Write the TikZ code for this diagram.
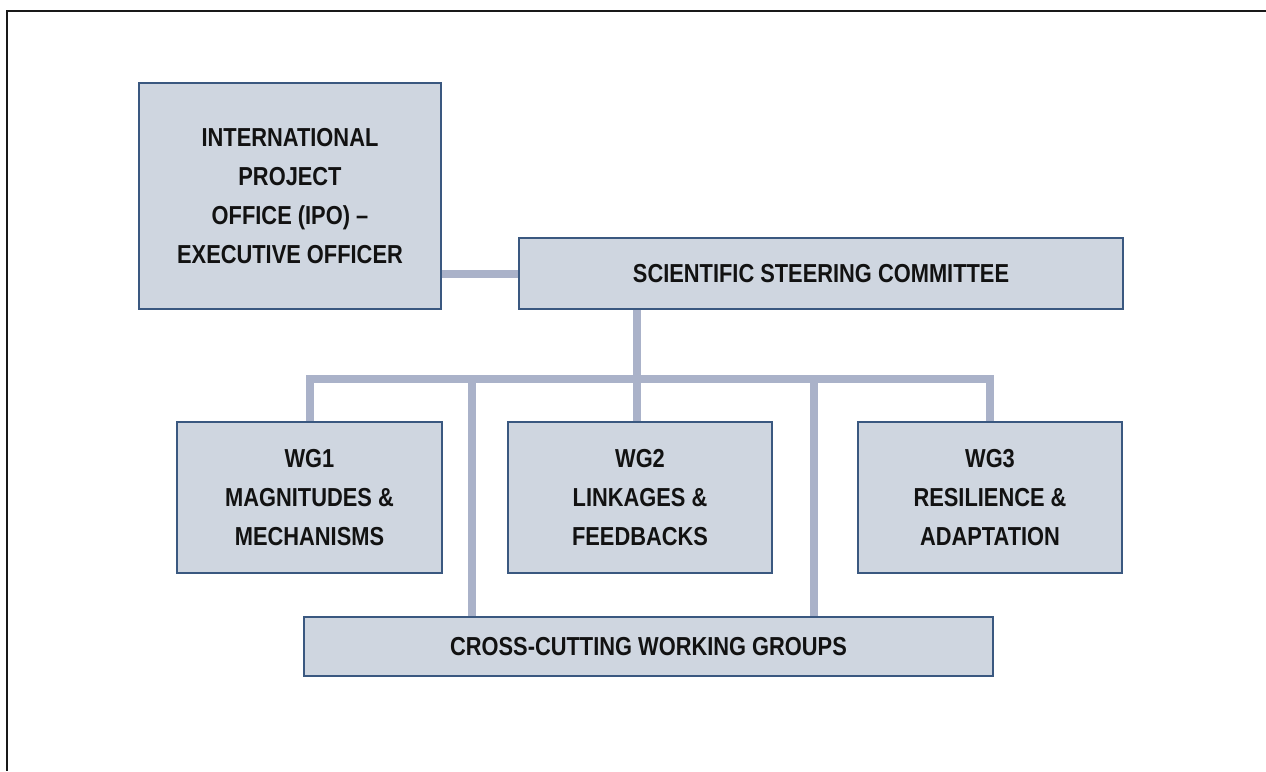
\documentclass[tikz,border=0pt]{standalone}
\usepackage{fontspec}
\setmainfont{Liberation Sans}[FakeStretch=0.84]
\usetikzlibrary{backgrounds}
\definecolor{boxfill}{RGB}{207,214,224}
\definecolor{boxline}{RGB}{58,88,128}
\definecolor{linkcol}{RGB}{170,178,201}
\definecolor{txt}{RGB}{18,18,18}
\begin{document}
\begin{tikzpicture}[x=1pt,y=-1pt,
  orgbox/.style={draw=boxline, line width=1.5pt, fill=boxfill, inner sep=0pt,
    align=center, text=txt, font=\fontsize{26}{39.3}\selectfont\bfseries},
  link/.style={draw=linkcol, line width=8pt, line join=miter},
  frameline/.style={draw=black!90, line width=1.6pt}]
\useasboundingbox (0,0) rectangle (1266,771);
\coordinate (fr1) at (1266,11);
\coordinate (fr2) at (7,11);
\coordinate (fr3) at (7,771);
\draw[frameline] (fr1) -- (fr2) -- (fr3);

\node[orgbox, minimum width=302pt, minimum height=226pt] (ipo) at (290,196)
  {INTERNATIONAL\\PROJECT\\OFFICE (IPO) –\\EXECUTIVE OFFICER};
\node[orgbox, minimum width=604pt, minimum height=71pt] (ssc) at (821,273.5)
  {SCIENTIFIC STEERING COMMITTEE};
\node[orgbox, minimum width=265pt, minimum height=151pt] (wg1) at (309.5,497.5)
  {WG1\\MAGNITUDES \&\\MECHANISMS};
\node[orgbox, minimum width=264pt, minimum height=151pt] (wg2) at (640,497.5)
  {WG2\\LINKAGES \&\\FEEDBACKS};
\node[orgbox, minimum width=264pt, minimum height=151pt] (wg3) at (990,497.5)
  {WG3\\RESILIENCE \&\\ADAPTATION};
\node[orgbox, minimum width=689pt, minimum height=59pt] (cc) at (648.5,646.5)
  {CROSS-CUTTING WORKING GROUPS};

\coordinate (trunk) at (636.5,378.5);
\coordinate (busl) at (310,378.5);
\coordinate (busr) at (990,378.5);
\coordinate (ccl) at (472,378.5);
\coordinate (ccr) at (813.7,378.5);

\begin{pgfonlayer}{background}
\draw[link] (ssc.west) -- (ssc.west -| ipo.east);
\draw[link] (trunk |- ssc.south) -- (trunk |- wg2.north);
\draw[link] (busl |- wg1.north) -- (busl) -- (busr) -- (busr |- wg3.north);
\draw[link] (ccl) -- (ccl |- cc.north);
\draw[link] (ccr) -- (ccr |- cc.north);
\end{pgfonlayer}
\end{tikzpicture}
\end{document}
